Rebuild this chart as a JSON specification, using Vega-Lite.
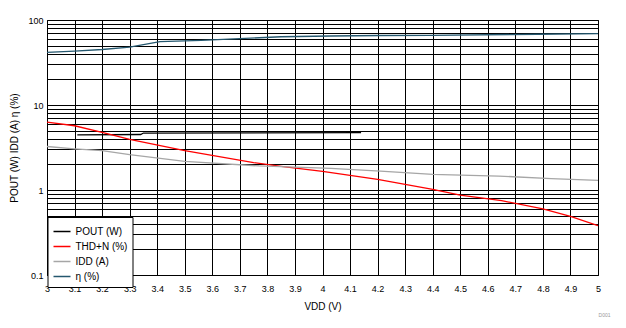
{
  "$schema": "https://vega.github.io/schema/vega-lite/v6.json",
  "width": 551,
  "height": 255,
  "autosize": "none",
  "padding": {"left": 47, "top": 20, "right": 28, "bottom": 53},
  "background": "white",
  "config": {
    "font": "Liberation Sans",
    "view": {"stroke": "black", "strokeWidth": 1},
    "axis": {"gridColor": "black", "gridOpacity": 1, "gridWidth": 1, "domain": false, "ticks": false, "labelColor": "black", "titleColor": "black", "labelFontSize": 9, "titleFontSize": 10, "titleFontWeight": "normal"}
  },
  "title": {"text": "D001", "orient": "bottom", "anchor": "end", "fontSize": 5, "color": "#999999", "fontWeight": "normal", "offset": 2, "dx": 10},
  "data": {"values": [
    {"V": 3.11, "value": 4.45, "series": "POUT (W)"},
    {"V": 3.34, "value": 4.5, "series": "POUT (W)"},
    {"V": 3.35, "value": 4.68, "series": "POUT (W)"},
    {"V": 4.14, "value": 4.72, "series": "POUT (W)"},
    {"V": 3.0, "value": 6.3, "series": "THD+N (%)"},
    {"V": 3.1, "value": 5.7, "series": "THD+N (%)"},
    {"V": 3.2, "value": 4.75, "series": "THD+N (%)"},
    {"V": 3.3, "value": 3.95, "series": "THD+N (%)"},
    {"V": 3.5, "value": 2.9, "series": "THD+N (%)"},
    {"V": 3.75, "value": 2.1, "series": "THD+N (%)"},
    {"V": 3.85, "value": 1.9, "series": "THD+N (%)"},
    {"V": 4.0, "value": 1.66, "series": "THD+N (%)"},
    {"V": 4.2, "value": 1.33, "series": "THD+N (%)"},
    {"V": 4.4, "value": 1.02, "series": "THD+N (%)"},
    {"V": 4.5, "value": 0.87, "series": "THD+N (%)"},
    {"V": 4.65, "value": 0.75, "series": "THD+N (%)"},
    {"V": 4.8, "value": 0.6, "series": "THD+N (%)"},
    {"V": 4.9, "value": 0.49, "series": "THD+N (%)"},
    {"V": 5.0, "value": 0.38, "series": "THD+N (%)"},
    {"V": 3.0, "value": 3.25, "series": "IDD (A)"},
    {"V": 3.1, "value": 3.05, "series": "IDD (A)"},
    {"V": 3.2, "value": 2.9, "series": "IDD (A)"},
    {"V": 3.3, "value": 2.6, "series": "IDD (A)"},
    {"V": 3.5, "value": 2.17, "series": "IDD (A)"},
    {"V": 3.77, "value": 1.92, "series": "IDD (A)"},
    {"V": 4.03, "value": 1.8, "series": "IDD (A)"},
    {"V": 4.21, "value": 1.67, "series": "IDD (A)"},
    {"V": 4.4, "value": 1.53, "series": "IDD (A)"},
    {"V": 4.64, "value": 1.46, "series": "IDD (A)"},
    {"V": 4.83, "value": 1.36, "series": "IDD (A)"},
    {"V": 5.0, "value": 1.3, "series": "IDD (A)"},
    {"V": 3.0, "value": 41.7, "series": "η (%)"},
    {"V": 3.1, "value": 43, "series": "η (%)"},
    {"V": 3.2, "value": 45, "series": "η (%)"},
    {"V": 3.3, "value": 48, "series": "η (%)"},
    {"V": 3.41, "value": 55.6, "series": "η (%)"},
    {"V": 3.56, "value": 57.5, "series": "η (%)"},
    {"V": 3.85, "value": 63.5, "series": "η (%)"},
    {"V": 4.03, "value": 64.8, "series": "η (%)"},
    {"V": 4.21, "value": 65.7, "series": "η (%)"},
    {"V": 4.39, "value": 66, "series": "η (%)"},
    {"V": 4.78, "value": 68, "series": "η (%)"},
    {"V": 5.0, "value": 69.3, "series": "η (%)"}
  ]},
  "mark": {"type": "line", "strokeWidth": 1.3, "clip": true},
  "encoding": {
    "x": {"field": "V", "type": "quantitative", "scale": {"domain": [3, 5], "nice": false, "zero": false},
      "axis": {"title": "VDD (V)", "values": [3,3.1,3.2,3.3,3.4,3.5,3.6,3.7,3.8,3.9,4,4.1,4.2,4.3,4.4,4.5,4.6,4.7,4.8,4.9,5], "format": ".1~f", "labelPadding": 9, "titlePadding": 8, "labelFlush": false}},
    "y": {"field": "value", "type": "quantitative", "scale": {"type": "log", "domain": [0.1, 100], "nice": false},
      "axis": {"title": "POUT (W) IDD (A) η (%)", "values": [0.1,0.2,0.3,0.4,0.5,0.6,0.7,0.8,0.9,1,2,3,4,5,6,7,8,9,10,20,30,40,50,60,70,80,90,100], "format": "~g", "labelExpr": "indexof([0.1,1,10,100], datum.value) >= 0 ? datum.label : ''", "labelPadding": 4, "titlePadding": 8}},
    "color": {"field": "series", "type": "nominal",
      "scale": {"domain": ["POUT (W)", "THD+N (%)", "IDD (A)", "η (%)"], "range": ["#000000", "#ff0000", "#a6a6a6", "#24576e"]},
      "legend": {"title": null, "orient": "none", "legendX": 0.5, "legendY": 197, "symbolType": "stroke", "symbolSize": 289, "symbolStrokeWidth": 1.5, "labelFontSize": 10, "labelColor": "black", "strokeColor": "black", "fillColor": "white", "padding": 5, "rowPadding": 0, "labelOffset": 4}
    }
  }
}
